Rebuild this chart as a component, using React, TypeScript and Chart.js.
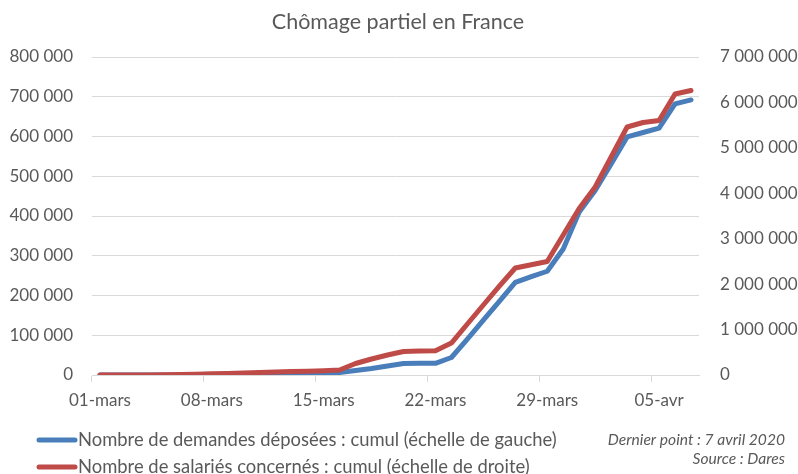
import React, { useEffect, useRef } from "react";
import { Chart, registerables } from "chart.js";

Chart.register(...registerables);

const days: string[] = [
  "01-mars", "02-mars", "03-mars", "04-mars", "05-mars", "06-mars", "07-mars",
  "08-mars", "09-mars", "10-mars", "11-mars", "12-mars", "13-mars", "14-mars",
  "15-mars", "16-mars", "17-mars", "18-mars", "19-mars", "20-mars", "21-mars",
  "22-mars", "23-mars", "24-mars", "25-mars", "26-mars", "27-mars", "28-mars",
  "29-mars", "30-mars", "31-mars", "01-avr", "02-avr", "03-avr", "04-avr",
  "05-avr", "06-avr", "07-avr",
];

// Nombre de demandes déposées : cumul (échelle de gauche)
const demandes: number[] = [
  0, 0, 0, 0, 0, 0, 0,
  200, 500, 800, 1100, 1500, 2000, 3000,
  4000, 6300, 11300, 16400, 22600, 28900, 29400,
  29400, 44000, 90000, 138000, 185000, 233000, 247500,
  261000, 317000, 410000, 464000, 531000, 599000, 610000,
  621000, 682000, 692000,
];

// Nombre de salariés concernés : cumul (échelle de droite)
const salaries: number[] = [
  0, 0, 0, 0, 5000, 10000, 15000,
  25000, 35000, 45000, 55000, 65000, 75000, 85000,
  95000, 110000, 253000, 352000, 440000, 517000, 528000,
  535000, 704000, 1123000, 1541000, 1957000, 2355000, 2426000,
  2498000, 3082000, 3665000, 4138000, 4799000, 5459000, 5558000,
  5602000, 6186000, 6263000,
];

const title = "Chômage partiel en France";
const legendLabels = [
  "Nombre de demandes déposées : cumul (échelle de gauche)",
  "Nombre de salariés concernés : cumul (échelle de droite)",
];
const notes = ["Dernier point : 7 avril 2020", "Source : Dares"];

const leftMax = 800000;
const leftStep = 100000;
const rightMax = 7000000;
const rightStep = 1000000;
const labelEvery = 7;

const BLUE = "#4a7ebb";
const RED = "#be4b48";
const TEXT = "#595959";
const GRID = "#d9d9d9";
const FONT = "Lato";

const fmt = (v: number) =>
  Math.round(v).toString().replace(/\B(?=(\d{3})+(?!\d))/g, " ");

const decorPlugin = {
  id: "decor",
  afterDraw(chart: any) {
    const ctx = chart.ctx as CanvasRenderingContext2D;
    ctx.save();
    ctx.fillStyle = TEXT;
    ctx.textBaseline = "middle";
    // title
    ctx.font = `21.5px ${FONT}`;
    ctx.textAlign = "center";
    ctx.fillText(title, 398, 22);
    // legend
    const colors = [BLUE, RED];
    const ys = [440, 467];
    ctx.font = `18.4px ${FONT}`;
    ctx.textAlign = "left";
    legendLabels.forEach((lab, i) => {
      ctx.strokeStyle = colors[i];
      ctx.lineWidth = 5;
      ctx.lineCap = "round";
      ctx.beginPath();
      ctx.moveTo(39, ys[i]);
      ctx.lineTo(75, ys[i]);
      ctx.stroke();
      ctx.fillText(lab, 78, ys[i]);
    });
    // notes
    ctx.font = `italic 15.6px ${FONT}`;
    ctx.textAlign = "right";
    ctx.fillText(notes[0], 785, 440);
    ctx.fillText(notes[1], 785, 459);
    ctx.restore();
  },
};

export default function App() {
  const ref = useRef<HTMLCanvasElement>(null);
  useEffect(() => {
    if (!ref.current) return;
    const chart = new Chart(ref.current, {
      type: "line",
      data: {
        labels: days,
        datasets: [
          {
            label: legendLabels[0],
            data: demandes,
            borderColor: BLUE,
            backgroundColor: BLUE,
            borderWidth: 5,
            pointRadius: 0,
            tension: 0,
            yAxisID: "y",
            order: 2,
            borderJoinStyle: "round",
            borderCapStyle: "round",
          },
          {
            label: legendLabels[1],
            data: salaries,
            borderColor: RED,
            backgroundColor: RED,
            borderWidth: 5,
            pointRadius: 0,
            tension: 0,
            yAxisID: "y1",
            order: 1,
            borderJoinStyle: "round",
            borderCapStyle: "round",
          },
        ],
      },
      options: {
        responsive: false,
        animation: false,
        layout: { padding: { top: 57, left: 0, right: 0, bottom: 0 } },
        plugins: {
          legend: { display: false },
          title: { display: false },
          tooltip: { enabled: false },
        },
        scales: {
          x: {
            offset: true,
            grid: {
              offset: true,
              drawOnChartArea: false,
              drawTicks: true,
              tickLength: 7,
              color: (c: any) =>
                typeof c.index === "number" && c.index % labelEvery === 0 ? GRID : "rgba(0,0,0,0)",
            },
            border: { display: true, color: GRID, width: 1 },
            ticks: {
              autoSkip: false,
              maxRotation: 0,
              minRotation: 0,
              padding: 8,
              color: TEXT,
              font: { family: FONT, size: 17 },
              callback: (_v: any, i: number) => (i % labelEvery === 0 ? days[i] : ""),
            },
            afterFit: (s: any) => {
              s.height = 99;
            },
          },
          y: {
            position: "left",
            min: 0,
            max: leftMax,
            grid: { color: GRID, drawTicks: false, lineWidth: 1 },
            border: { display: false },
            ticks: {
              stepSize: leftStep,
              padding: 19,
              color: TEXT,
              font: { family: FONT, size: 17 },
              callback: (v: any) => fmt(Number(v)),
            },
            afterFit: (s: any) => {
              s.width = 92;
            },
          },
          y1: {
            position: "right",
            min: 0,
            max: rightMax,
            grid: { display: false, drawOnChartArea: false, drawTicks: false },
            border: { display: false },
            ticks: {
              stepSize: rightStep,
              padding: 21,
              color: TEXT,
              font: { family: FONT, size: 17 },
              callback: (v: any) => fmt(Number(v)),
            },
            afterFit: (s: any) => {
              s.width = 99;
            },
          },
        },
      },
      plugins: [decorPlugin],
    });
    return () => chart.destroy();
  }, []);
  return (
    <div style={{ position: "fixed", left: 0, top: 0, width: 798, height: 474, background: "#fff" }}>
      <canvas ref={ref} width={798} height={474} style={{ display: "block", width: 798, height: 474 }} />
    </div>
  );
}
